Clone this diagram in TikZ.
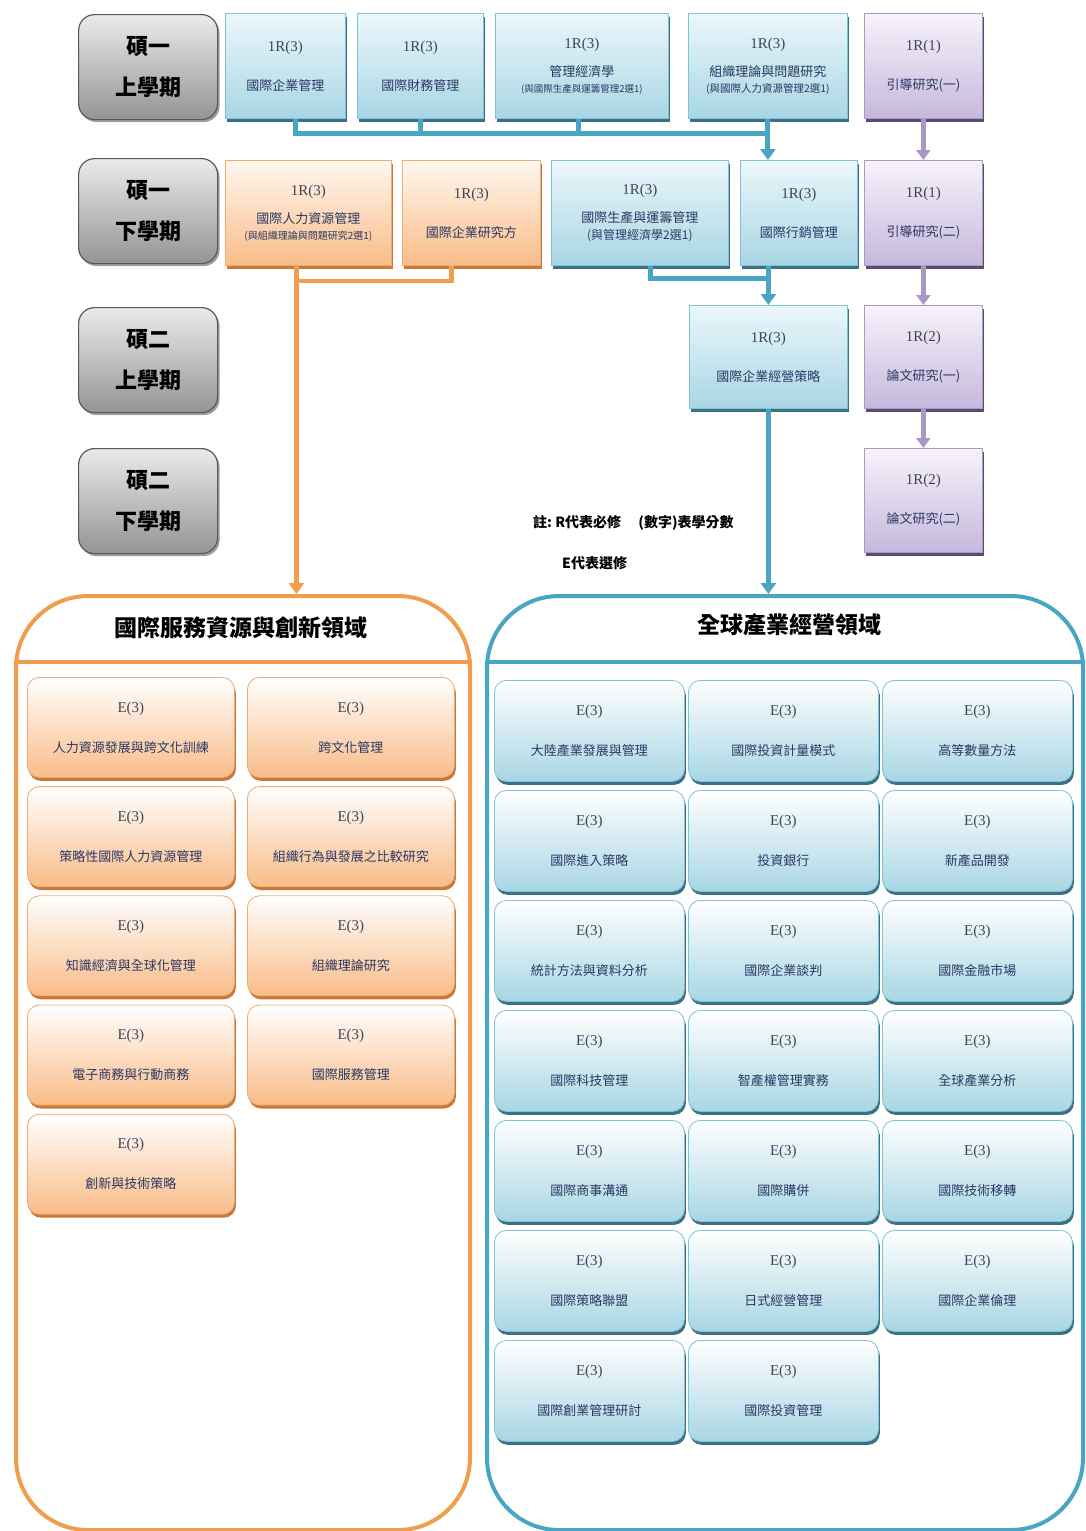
\documentclass[tikz,border=0pt]{standalone}
\usepackage{fontspec}
\setmainfont{Liberation Serif}
\newfontfamily\cjk{Noto Sans CJK TC}
\usetikzlibrary{positioning,arrows.meta,shadows}

\definecolor{bluelink}{RGB}{72,166,196}
\definecolor{orangelink}{RGB}{240,158,78}
\definecolor{purplelink}{RGB}{168,152,200}
\definecolor{bluetop}{RGB}{236,247,251}
\definecolor{bluebot}{RGB}{168,214,228}
\definecolor{blueedge}{RGB}{128,194,214}
\definecolor{blueshade}{RGB}{38,98,118}
\definecolor{orangetop}{RGB}{255,248,241}
\definecolor{orangebot}{RGB}{249,188,136}
\definecolor{orangeedge}{RGB}{240,172,112}
\definecolor{orangeshade}{RGB}{196,106,38}
\definecolor{purpletop}{RGB}{247,243,251}
\definecolor{purplebot}{RGB}{198,184,220}
\definecolor{purpleedge}{RGB}{168,154,198}
\definecolor{purpleshade}{RGB}{70,56,96}
\definecolor{nametext}{RGB}{42,56,100}
\definecolor{credittext}{RGB}{62,70,92}

\newcommand{\credit}[1]{{\fontsize{15}{16}\selectfont\color{credittext}#1}}

\tikzset{
  coursebox/.style={rectangle, anchor=north west, inner sep=0pt, align=center,
    line width=0.8pt, font=\fontsize{13}{16}\selectfont, text=nametext},
  reqblue/.style={coursebox, draw=blueedge, top color=bluetop, bottom color=bluebot,
    drop shadow={shadow xshift=1.5pt, shadow yshift=-3.5pt, fill=blueshade, opacity=0.9}},
  reqorange/.style={coursebox, draw=orangeedge, top color=orangetop, bottom color=orangebot,
    drop shadow={shadow xshift=1.5pt, shadow yshift=-3.5pt, fill=orangeshade, opacity=0.9}},
  reqpurple/.style={coursebox, draw=purpleedge, top color=purpletop, bottom color=purplebot,
    drop shadow={shadow xshift=1.5pt, shadow yshift=-3.5pt, fill=purpleshade, opacity=0.9}},
  elecorange/.style={reqorange, rounded corners=12pt, top color=white},
  elecblue/.style={reqblue, rounded corners=12pt, top color=white},
  semester/.style={rectangle, rounded corners=16pt, anchor=north west, align=center,
    minimum width=139pt, minimum height=105pt, draw=black!65, line width=1.2pt,
    top color=black!8, bottom color=black!42,
    font=\cjk\bfseries\fontsize{22}{24}\selectfont,
    drop shadow={shadow xshift=2pt, shadow yshift=-2.5pt, fill=black!55, opacity=0.7}},
  field/.style={rectangle, rounded corners=72pt, anchor=north west, fill=white,
    line width=4pt, minimum height=934pt},
  fieldtitle/.style={font=\cjk\bfseries\fontsize{23}{26}\selectfont},
  notetext/.style={anchor=west, inner sep=0pt, font=\cjk\bfseries\fontsize{14}{16}\selectfont},
  blueln/.style={draw=bluelink, line width=5pt},
  bluearr/.style={blueln, -{Triangle[width=15pt,length=11pt]}},
  orangeln/.style={draw=orangelink, line width=4.5pt},
  orangearr/.style={orangeln, -{Triangle[width=15pt,length=11pt]}},
  purplearr/.style={draw=purplelink, line width=4.5pt, -{Triangle[width=14pt,length=10pt]}}
}

\begin{document}
\begin{tikzpicture}[x=1pt, y=-1pt]
  \useasboundingbox (0,0) rectangle (1085,1531);

  % Fields
  \node[field, draw=orangelink, minimum width=454pt] (lfield) at (14,594) {};
  \node[field, draw=bluelink, minimum width=596pt] (rfield) at (485,594) {};
  \node[fieldtitle] (ltitle) at (241,628) {國際服務資源與創新領域};
  \node[fieldtitle] (rtitle) at (789,625) {全球產業經營領域};
  \draw[orangelink, line width=4pt] (lfield.west |- 0,662) -- (lfield.east |- 0,662);
  \draw[bluelink, line width=4pt] (rfield.west |- 0,662) -- (rfield.east |- 0,662);

  % Semesters
  \node[semester] (sem1) at (78,14) {碩一\\[17pt]上學期};
  \node[semester] (sem2) at (78,158) {碩一\\[17pt]下學期};
  \node[semester] (sem3) at (78,307) {碩二\\[17pt]上學期};
  \node[semester] (sem4) at (78,448) {碩二\\[17pt]下學期};

  % Required courses, first semester
  \node[reqblue, minimum width=120pt, minimum height=105pt] (b11) at (225,13)
    {\credit{1R(3)}\\[23pt]{\cjk 國際企業管理}};
  \node[reqblue, minimum width=126pt, minimum height=105pt] (b12) at (357,13)
    {\credit{1R(3)}\\[23pt]{\cjk 國際財務管理}};
  \node[reqblue, minimum width=173pt, minimum height=105pt] (b13) at (495,13)
    {\credit{1R(3)}\\[12pt]{\cjk 管理經濟學}\\[0pt]{\cjk\fontsize{9.5}{10}\selectfont (與國際生產與運籌管理2選1)}};
  \node[reqblue, minimum width=159pt, minimum height=105pt] (b14) at (688,13)
    {\credit{1R(3)}\\[12pt]{\cjk 組織理論與問題研究}\\[0pt]{\cjk\fontsize{10.5}{11}\selectfont (與國際人力資源管理2選1)}};
  \node[reqpurple, minimum width=118pt, minimum height=105pt] (b15) at (864,13)
    {\credit{1R(1)}\\[23pt]{\cjk 引導研究(一)}};

  % Required courses, second semester
  \node[reqorange, minimum width=166pt, minimum height=105pt] (b21) at (225,160)
    {\credit{1R(3)}\\[12pt]{\cjk 國際人力資源管理}\\[0pt]{\cjk\fontsize{10}{11}\selectfont (與組織理論與問題研究2選1)}};
  \node[reqorange, minimum width=138pt, minimum height=105pt] (b22) at (402,160)
    {\credit{1R(3)}\\[23pt]{\cjk 國際企業研究方}};
  \node[reqblue, minimum width=177pt, minimum height=105pt] (b23) at (551,160)
    {\credit{1R(3)}\\[12pt]{\cjk 國際生產與運籌管理}\\[1pt]{\cjk\fontsize{12}{12}\selectfont (與管理經濟學2選1)}};
  \node[reqblue, minimum width=117pt, minimum height=105pt] (b24) at (740,160)
    {\credit{1R(3)}\\[23pt]{\cjk 國際行銷管理}};
  \node[reqpurple, minimum width=118pt, minimum height=105pt] (b25) at (864,160)
    {\credit{1R(1)}\\[23pt]{\cjk 引導研究(二)}};

  % Required courses, second year
  \node[reqblue, minimum width=158pt, minimum height=103pt] (b3) at (689,305)
    {\credit{1R(3)}\\[23pt]{\cjk 國際企業經營策略}};
  \node[reqpurple, minimum width=118pt, minimum height=103pt] (b35) at (864,305)
    {\credit{1R(2)}\\[23pt]{\cjk 論文研究(一)}};
  \node[reqpurple, minimum width=118pt, minimum height=104pt] (b45) at (864,448)
    {\credit{1R(2)}\\[23pt]{\cjk 論文研究(二)}};

  % Note
  \node[notetext] (note1) at (533,523) {註:\ R代表必修\quad\ (數字)表學分數};
  \node[notetext] (note2) at (562,563) {E代表選修};

  % Electives, left field
  \foreach \cname [count=\i from 0] in {人力資源發展與跨文化訓練, 跨文化管理,
      策略性國際人力資源管理, 組織行為與發展之比較研究, 知識經濟與全球化管理,
      組織理論研究, 電子商務與行動商務, 國際服務管理, 創新與技術策略}{
    \pgfmathtruncatemacro{\col}{mod(\i,2)}
    \pgfmathtruncatemacro{\row}{div(\i,2)}
    \node[elecorange, minimum width=207pt, minimum height=100pt] (le\i)
      at (27+220*\col, 677+109.2*\row) {\credit{E(3)}\\[24pt]{\cjk \cname}};
  }

  % Electives, right field
  \foreach \cname [count=\i from 0] in {大陸產業發展與管理, 國際投資計量模式, 高等數量方法,
      國際進入策略, 投資銀行, 新產品開發, 統計方法與資料分析, 國際企業談判, 國際金融市場,
      國際科技管理, 智產權管理實務, 全球產業分析, 國際商事溝通, 國際購併, 國際技術移轉,
      國際策略聯盟, 日式經營管理, 國際企業倫理, 國際創業管理研討, 國際投資管理}{
    \pgfmathtruncatemacro{\col}{mod(\i,3)}
    \pgfmathtruncatemacro{\row}{div(\i,3)}
    \node[elecblue, minimum width=190pt, minimum height=101pt] (re\i)
      at (494+194*\col, 680+110*\row) {\credit{E(3)}\\[24pt]{\cjk \cname}};
  }

  % Connections
  \draw[blueln] ([xshift=10pt]b11.south) |- ([yshift=-15pt]b14.south);
  \draw[blueln] (b12.south) -- ++(0,15);
  \draw[blueln] ([xshift=-3pt]b13.south) -- ++(0,15);
  \draw[bluearr] (b14.south) -- (b14.south |- b24.north);
  \coordinate (j24) at (b24.south -| b3.north);
  \draw[blueln] ([xshift=11pt]b23.south) |- ([yshift=-13pt]j24);
  \draw[bluearr] (j24) -- (b3.north);
  \draw[bluearr] (b3.south) -- (b3.south |- rfield.north);
  \draw[orangeln] ([xshift=-20pt]b22.south) |- ([xshift=-12pt, yshift=-15pt]b21.south);
  \draw[orangearr] ([xshift=-12pt]b21.south) -- ([xshift=-12pt]b21.south |- lfield.north);
  \draw[purplearr] (b15) -- (b25);
  \draw[purplearr] (b25) -- (b35);
  \draw[purplearr] (b35) -- (b45);
\end{tikzpicture}
\end{document}
